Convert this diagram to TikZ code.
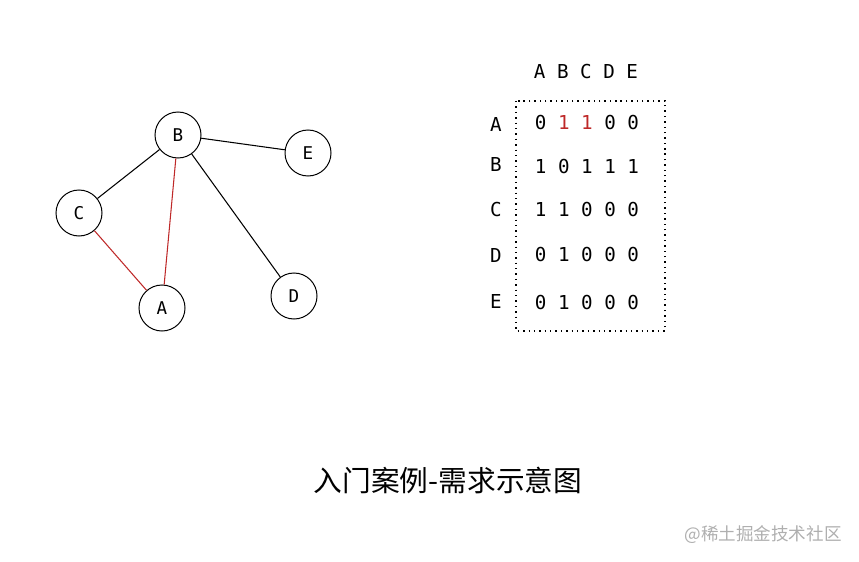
\documentclass[tikz,border=0pt]{standalone}
\usepackage{fontspec}
\setmainfont{DejaVu Sans}
\newfontfamily\monofont{DejaVu Sans Mono}
\newfontfamily\cjk{Noto Sans CJK SC}
\usetikzlibrary{shapes.geometric}
\definecolor{edgered}{RGB}{190,40,40}
\definecolor{markgray}{RGB}{175,175,175}
\tikzstyle{vertex} = [
    circle,
    minimum size=1.38cm,
    inner sep=0pt,
    line width=0.85pt,
    draw=black,
    font=\monofont\fontsize{15}{17}\selectfont
]
\tikzstyle{edge} = [line width=0.9pt, draw=black]
\tikzstyle{rededge} = [line width=0.9pt, draw=edgered]
\tikzstyle{cell} = [inner sep=0pt, font=\monofont\fontsize{16.4}{18}\selectfont]
\tikzstyle{frame} = [line width=1.3pt, dash pattern=on 1.2pt off 3.4pt]

\begin{document}
\begin{tikzpicture}[x=0.03cm, y=-0.03cm]

\useasboundingbox (0,0) rectangle (859,562);

% graph
\node (B) [vertex] at (178,135) {B};
\node (E) [vertex] at (308,153) {E};
\node (C) [vertex] at (79,213) {C};
\node (A) [vertex] at (162,308) {A};
\node (D) [vertex] at (294,296) {D};

\draw [edge] (B) -- (C);
\draw [edge] (B) -- (E);
\draw [edge] (B) -- (D);
\draw [rededge] (B) -- (A);
\draw [rededge] (C) -- (A);

% adjacency matrix
\node (head) [cell] at (586,72) {A B C D E};

\node (labA) [cell] at (496,124) {A};
\node (labB) [cell] at (496,164) {B};
\node (labC) [cell] at (496,210) {C};
\node (labD) [cell] at (496,255) {D};
\node (labE) [cell] at (496,301) {E};

\node (rowA) [cell] at (587,123)
{0 \textcolor{edgered}{1} \textcolor{edgered}{1} 0 0};
\node (rowB) [cell] at (587,167) {1 0 1 1 1};
\node (rowC) [cell] at (587,210) {1 1 0 0 0};
\node (rowD) [cell] at (587,255) {0 1 0 0 0};
\node (rowE) [cell] at (587,303) {0 1 0 0 0};

\draw [frame] (516,101) rectangle (665,331);

% caption
\node (title) at (448,480) {\cjk\fontsize{24.5}{28}\selectfont 入门案例-需求示意图};
\node (mark) [text=markgray] at (763,535) {\cjk\fontsize{15}{17}\selectfont @稀土掘金技术社区};

\end{tikzpicture}
\end{document}
